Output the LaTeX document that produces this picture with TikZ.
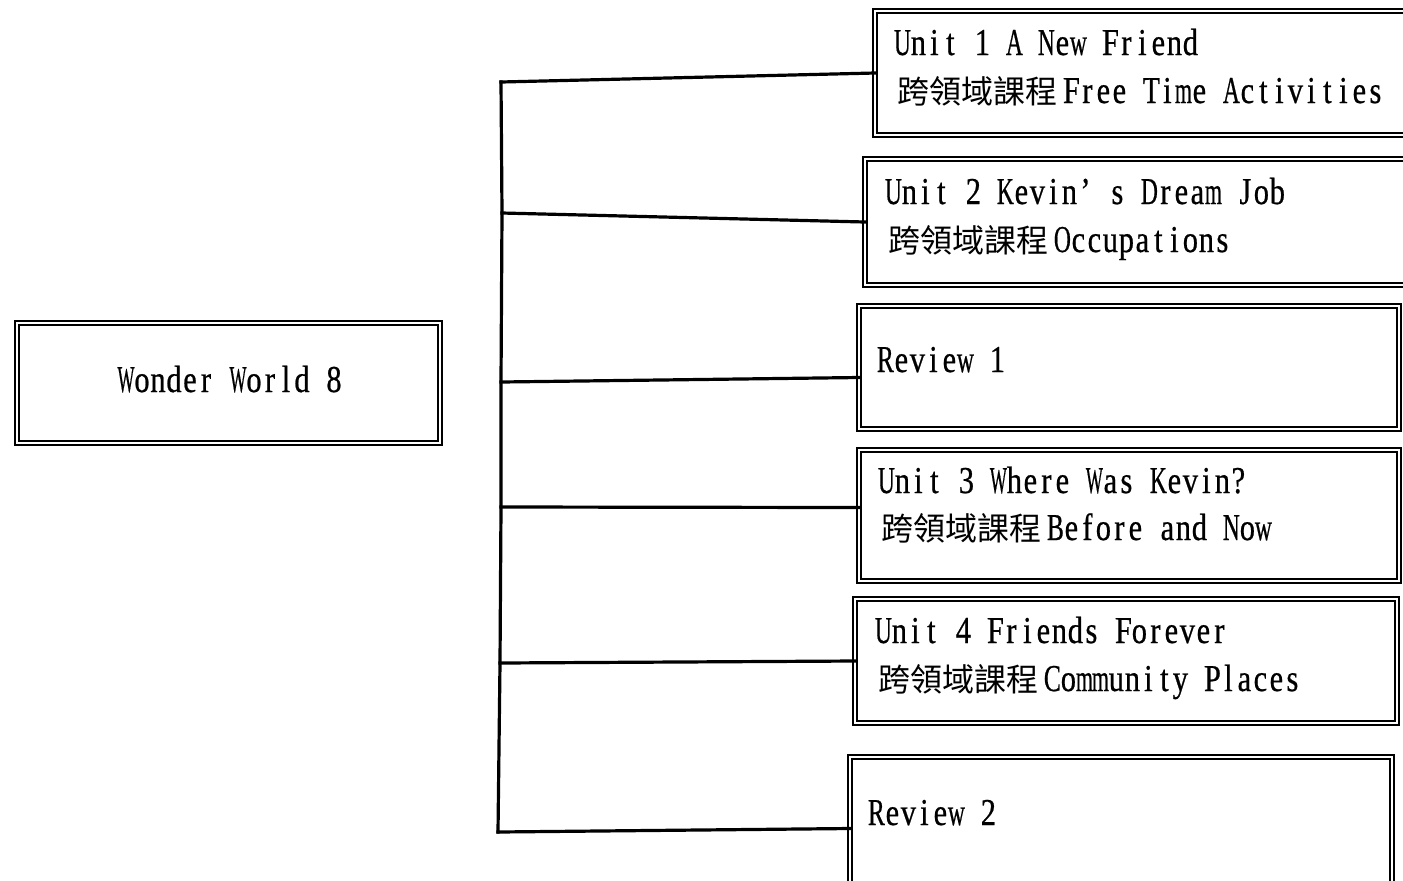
\documentclass[tikz,border=0pt]{standalone}
\usepackage{fontspec}
\usepackage{graphicx}
\newfontfamily\latin[FakeStretch=0.8,FakeBold=0.6]{Liberation Serif}
\newfontfamily\cjk{Noto Sans CJK TC}
\usetikzlibrary{fit}
\newsavebox\cellbox
\newcommand\cell[1]{\sbox\cellbox{#1}%
  \ifdim\wd\cellbox>8.5pt\relax
    \makebox[8pt][c]{\resizebox{8.5pt}{\height}{\usebox\cellbox}}%
  \else
    \makebox[8pt][c]{\usebox\cellbox}%
  \fi}
\ExplSyntaxOn
\NewDocumentCommand\mono{m}{\str_map_inline:nn{#1}{\cell{##1}}}
\ExplSyntaxOff
\newcommand\zh[1]{{\cjk\fontsize{16pt}{24pt}\selectfont #1}\hspace{3pt}}
\begin{document}
\begin{tikzpicture}[x=0.5pt,y=-0.5pt,
  box/.style={draw=black, line width=0.9pt, double=white, double distance=1.2pt, inner sep=0pt, outer sep=0pt},
  lbl/.style={anchor=base west, inner sep=0pt, font=\latin\fontsize{19pt}{24pt}\selectfont},
  link/.style={line width=1.6pt, line cap=rect}]
\useasboundingbox (0,0) rectangle (1403,880);
\fill[white] (0,0) rectangle (1403,880);
% boxes
\node[box, fit={(17,323) (440,443)}] (root) {};
\node[box, fit={(875,11) (1415,135)}] (b1) {};
\node[box, fit={(865,159) (1415,285)}] (b2) {};
\node[box, fit={(859,306) (1399,429)}] (b3) {};
\node[box, fit={(859,450) (1399,581)}] (b4) {};
\node[box, fit={(855,599) (1397,723)}] (b5) {};
\node[box, fit={(850,757) (1392,900)}] (b6) {};
% texts
\node[lbl, anchor=base] (troot) at (230,392) {\mono{Wonder World 8}};
\node[lbl] (t1a) at (894,55) {\mono{Unit 1 A New Friend}};
\node[lbl] (t1b) at (897,103) {\zh{跨領域課程}\mono{Free Time Activities}};
\node[lbl] (t2a) at (885,204) {\mono{Unit 2 Kevin’ s Dream Job}};
\node[lbl] (t2b) at (888,252) {\zh{跨領域課程}\mono{Occupations}};
\node[lbl] (t3a) at (877,372) {\mono{Review 1}};
\node[lbl] (t4a) at (878,493) {\mono{Unit 3 Where Was Kevin?}};
\node[lbl] (t4b) at (881,540) {\zh{跨領域課程}\mono{Before and Now}};
\node[lbl] (t5a) at (875,643) {\mono{Unit 4 Friends Forever}};
\node[lbl] (t5b) at (878,691) {\zh{跨領域課程}\mono{Community Places}};
\node[lbl] (t6a) at (868,825) {\mono{Review 2}};
% trunk
\coordinate (j1) at (501,82);
\coordinate (j2) at (502,213);
\coordinate (j3) at (501,382);
\coordinate (j4) at (501,507);
\coordinate (j5) at (500,663);
\coordinate (j6) at (498,832);
\draw[link] (j1) -- (j2) -- (j3) -- (j4) -- (j5) -- (j6);
\draw[link] (j1) -- (b1.west);
\draw[link] (j2) -- (b2.west);
\draw[link] (j3) -- ([yshift=-5pt]b3.west);
\draw[link] (j4) -- ([yshift=4pt]b4.west);
\draw[link] (j5) -- (b5.west);
\draw[link] (j6) -- (b6.west);
\end{tikzpicture}
\end{document}
